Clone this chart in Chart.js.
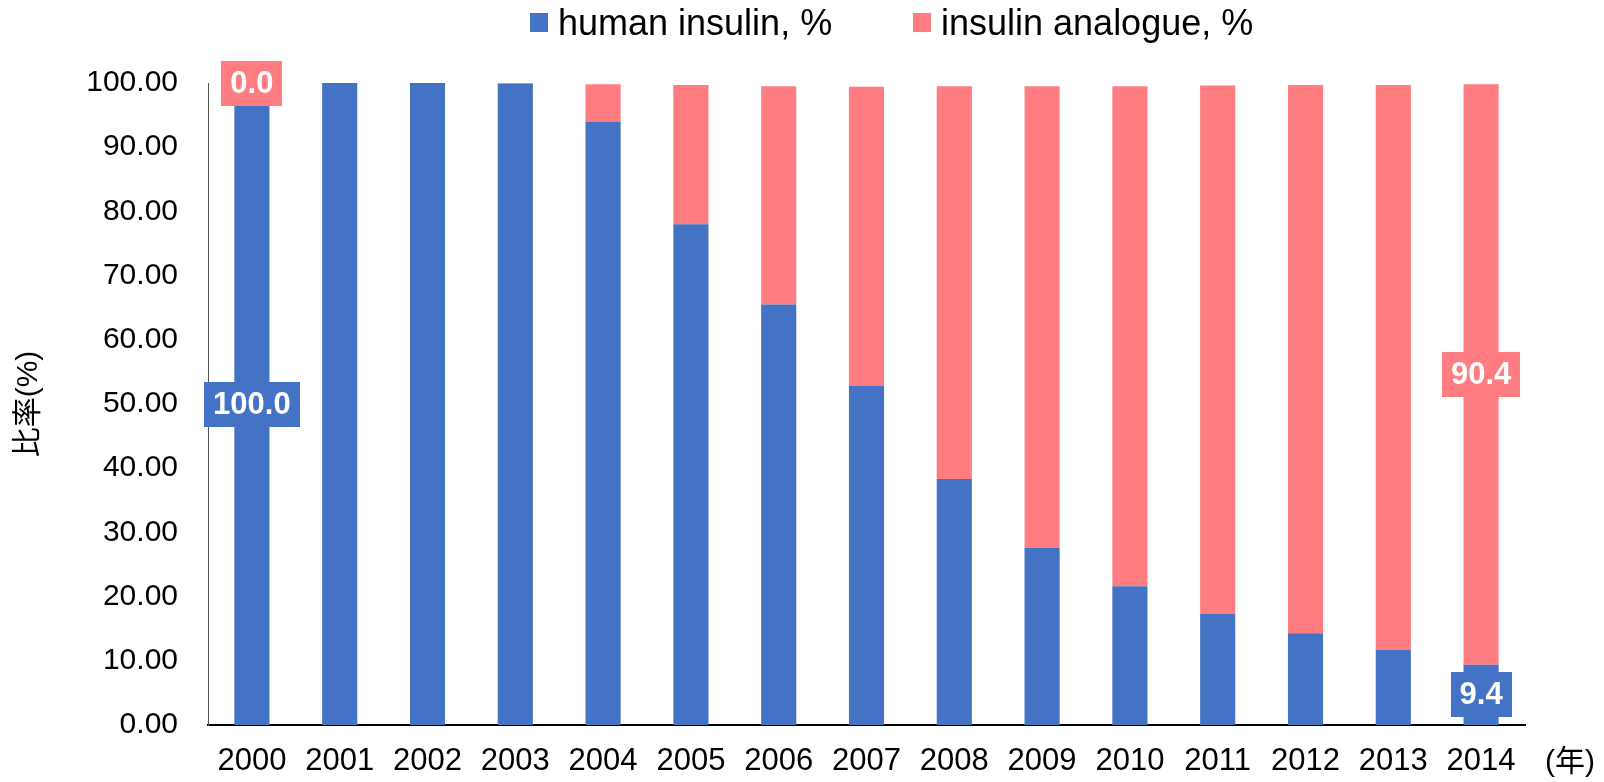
<!DOCTYPE html>
<html><head><meta charset="utf-8">
<script src="https://cdn.jsdelivr.net/npm/chart.js@4.4.1/dist/chart.umd.min.js"></script>
<style>html,body{margin:0;padding:0;background:#fff;}canvas{display:block;}</style>
</head><body>
<canvas id="c" width="1604" height="782"></canvas>
<script>
const years = ['2000','2001','2002','2003','2004','2005','2006','2007','2008','2009','2010','2011','2012','2013','2014'];
const humanInsulin = [100.0, 100.0, 100.0, 99.9, 94.0, 78.0, 65.5, 52.9, 38.3, 27.6, 21.6, 17.3, 14.3, 11.7, 9.4];
const insulinAnalogue = [0.0, 0.0, 0.0, 0.1, 5.8, 21.7, 34.0, 46.5, 61.2, 71.9, 77.9, 82.3, 85.4, 88.0, 90.4];
const seriesNames = ['human insulin, %', 'insulin analogue, %'];
const seriesColors = ['#4472C4', '#FF7C80'];
const labelledIndices = [0, 14];
const yAxisTitle = '比率(%)';
const xAxisUnit = '(年)';
const FONT = '"Liberation Sans", Arial, "Noto Sans CJK JP", sans-serif';

const valueLabels = {
  id: 'valueLabels',
  afterDatasetsDraw(chart) {
    const ctx = chart.ctx;
    ctx.save();
    ctx.font = 'bold 31px ' + FONT;
    ctx.textAlign = 'center';
    ctx.textBaseline = 'middle';
    chart.data.datasets.forEach((ds, di) => {
      const meta = chart.getDatasetMeta(di);
      labelledIndices.forEach(idx => {
        const el = meta.data[idx];
        const c = el.getCenterPoint();
        const txt = Number(ds.data[idx]).toFixed(1);
        const w = ctx.measureText(txt).width + 18;
        const h = 45;
        ctx.fillStyle = ds.backgroundColor;
        ctx.fillRect(Math.round(c.x - w / 2), Math.round(c.y - h / 2), Math.round(w), h);
        ctx.fillStyle = '#ffffff';
        ctx.fillText(txt, c.x, c.y + 1);
      });
    });
    ctx.restore();
  }
};

const customLegend = {
  id: 'customLegend',
  afterDraw(chart) {
    const ctx = chart.ctx;
    ctx.save();
    ctx.font = '36px ' + FONT;
    ctx.textBaseline = 'alphabetic';
    ctx.textAlign = 'left';
    const boxX = [530, 913];
    chart.data.datasets.forEach((ds, i) => {
      ctx.fillStyle = ds.backgroundColor;
      ctx.fillRect(boxX[i], 13, 18, 19);
      ctx.fillStyle = '#000';
      ctx.fillText(ds.label, boxX[i] + 28, 35);
    });
    // x axis unit
    const xs = chart.scales.x;
    ctx.font = '30px ' + FONT;
    ctx.textBaseline = 'middle';
    ctx.fillText(xAxisUnit, xs.right + 20, 763);
    ctx.restore();
  }
};

new Chart(document.getElementById('c'), {
  type: 'bar',
  data: {
    labels: years,
    datasets: [
      { label: seriesNames[0], data: humanInsulin, backgroundColor: seriesColors[0], borderWidth: 0 },
      { label: seriesNames[1], data: insulinAnalogue, backgroundColor: seriesColors[1], borderWidth: 0 }
    ]
  },
  options: {
    responsive: false,
    animation: false,
    devicePixelRatio: 1,
    layout: { padding: { top: 83, right: 79, left: 0, bottom: 0 } },
    datasets: { bar: { barPercentage: 0.4, categoryPercentage: 1.0 } },
    plugins: { legend: { display: false }, tooltip: { enabled: false } },
    scales: {
      x: {
        stacked: true,
        grid: { display: false, drawTicks: false },
        border: { display: true, color: '#000', width: 2 },
        ticks: { color: '#000', font: { family: FONT, size: 31 }, padding: 18, maxRotation: 0, autoSkip: false },
        afterFit(s) { s.height = 57; }
      },
      y: {
        stacked: true,
        min: 0, max: 100,
        grid: { display: false, drawTicks: false },
        border: { display: true, color: '#555', width: 1 },
        ticks: { stepSize: 10, color: '#000', font: { family: FONT, size: 30 }, padding: 30,
                 callback: v => Number(v).toFixed(2) },
        title: { display: true, text: yAxisTitle, color: '#000', font: { family: FONT, size: 30 }, padding: { top: 11, bottom: 0 } },
        afterFit(s) { s.width = 208; }
      }
    }
  },
  plugins: [valueLabels, customLegend]
});
</script>
</body></html>
